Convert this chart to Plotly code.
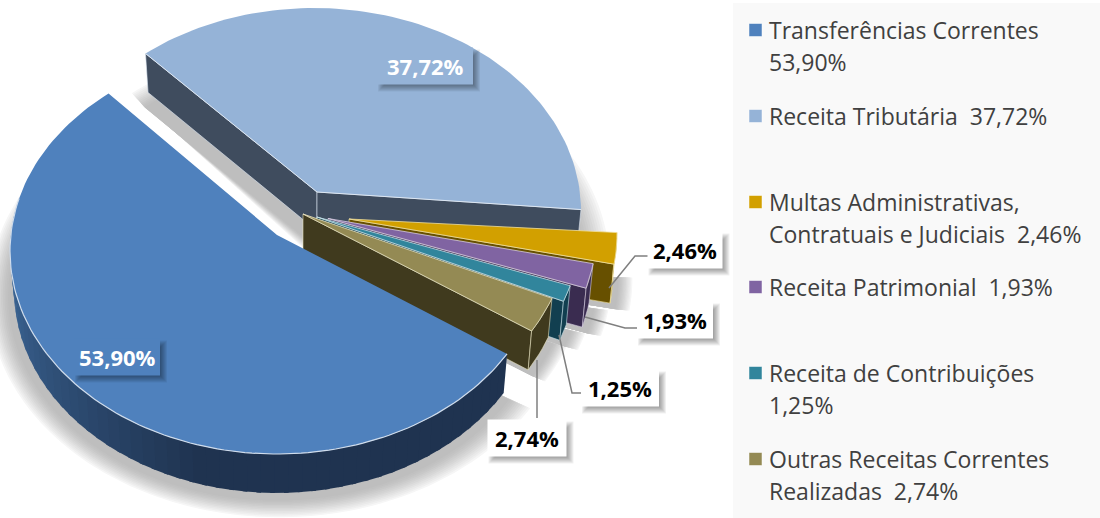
import math
import plotly.graph_objects as go

# ---------- data ----------
categories = ["Transferências Correntes", "Receita Tributária", "Multas Administrativas, Contratuais e Judiciais",
              "Receita Patrimonial", "Receita de Contribuições", "Outras Receitas Correntes Realizadas"]
values = [53.90, 37.72, 2.46, 1.93, 1.25, 2.74]
value_labels = ["53,90%", "37,72%", "2,46%", "1,93%", "1,25%", "2,74%"]
legend_lines = [["Transferências Correntes", "53,90%"], ["Receita Tributária  37,72%"],
                ["Multas Administrativas,", "Contratuais e Judiciais  2,46%"], ["Receita Patrimonial  1,93%"],
                ["Receita de Contribuições", "1,25%"], ["Outras Receitas Correntes", "Realizadas  2,74%"]]

# ---------- styles / layout ----------
top_colors = ["#4f81bd", "#95b3d7", "#d2a000", "#8064a2", "#31859c", "#948a54"]
side_colors = ["#1f3350", "#3f4c5e", "#675000", "#3a2c50", "#123f50", "#403a1e"]
edge_colors = ["#cfdcec", "#dce6f2", "#f0e0a0", "#d5cce0", "#c5dfe6", "#e8e2c0"]
centers = [(277, 251), (314, 211), (350, 234), (329, 233.5), (313, 231), (301.5, 228)]
apex_shift = [(0, -16), (3, -19), (-1, -15), (-1, -15), (4, -14), (1.5, -14)]
RX, RY, DEPTH, BOTTOM_SCALE = 267, 203, 39, 0.985
START, WARP = 34.0, 4.25
draw_order = [1, 2, 3, 4, 5, 0]
box_centers = [(117, 357), (425, 66), (685, 250), (675, 320), (620, 388), (527, 438)]
box_w = [86, 96, 75, 76, 78, 79]
box_h = 37
box_fill = ["#4f81bd", "#95b3d7", "white", "white", "white", "white"]
label_color = ["white", "white", "black", "black", "black", "black"]
leaders = {2: [(648, 256), (635, 256), (609, 288)], 3: [(637, 328), (625, 328), (585, 317)],
           4: [(585, 393), (572, 393), (559, 335)], 5: [(537, 418), (537, 360)]}
legend_y = [(30, 62), (116,), (202, 234), (287,), (373, 405), (459, 491)]
LABEL_FONT = "Open Sans"
LEGEND_FONT = "Open Sans"
SHADOW_LAYERS = 12
SHADOW_REACH = [24, 26, 14, 14, 14, 14]
SHADOW_DROP = [6, 16, 6, 6, 6, 6]


def warp(phi):
    return phi - WARP * math.cos(math.radians(phi))


bounds, c = [], START
for v in values:
    bounds.append((warp(c), warp(c + v * 3.6)))
    c += v * 3.6


def arc(i, a, b, dy=0.0, sx=1.0, sy=1.0, n=None):
    n = n or max(3, int(abs(b - a) / 1.5))
    cx, cy = centers[i]
    pts = []
    for k in range(n + 1):
        t = math.radians(a + (b - a) * k / n)
        pts.append((cx + RX * sx * math.cos(t), cy + dy + RY * sy * math.sin(t)))
    return pts


def apex(i, dy=0.0, scale=1.0):
    cx, cy = centers[i]
    return (cx + apex_shift[i][0] * scale, cy + apex_shift[i][1] + dy)


fig = go.Figure()


def poly(pts, fill, line=None, width=0.0):
    xs = [p[0] for p in pts] + [pts[0][0]]
    ys = [p[1] for p in pts] + [pts[0][1]]
    fig.add_trace(go.Scatter(x=xs, y=ys, mode="lines", fill="toself", fillcolor=fill,
                             line=dict(color=line or fill, width=width), hoverinfo="skip", showlegend=False))


def path(pts, color, width):
    fig.add_trace(go.Scatter(x=[p[0] for p in pts], y=[p[1] for p in pts], mode="lines",
                             line=dict(color=color, width=width), hoverinfo="skip", showlegend=False))


def mix(c1, c2, t):
    a = [int(c1[j:j + 2], 16) for j in (1, 3, 5)]
    b = [int(c2[j:j + 2], 16) for j in (1, 3, 5)]
    return "#%02x%02x%02x" % tuple(round(x + (y - x) * t) for x, y in zip(a, b))


shapes = [dict(type="rect", xref="x", yref="y", x0=733, x1=1100, y0=3, y1=518,
               fillcolor="#f9f9f9", line=dict(width=0), layer="below")]

# soft shadows under every slice: opaque greys, painted from the outermost ring inwards
for k in range(SHADOW_LAYERS, 0, -1):
    f = k / SHADOW_LAYERS
    col = mix("#bcbcbc", "#f6f6f6", f ** 1.4)
    for i in draw_order:
        a, b = bounds[i]
        d = f * SHADOW_REACH[i]
        s = 1 + d / RX
        drop = DEPTH + SHADOW_DROP[i]
        pts = [apex(i, drop + d * 0.6)] + arc(i, a, b, drop, s, s)
        d_path = "M " + " L ".join("%.1f,%.1f" % (x + d * 0.1, y) for x, y in pts) + " Z"
        shapes.append(dict(type="path", path=d_path, xref="x", yref="y", fillcolor=col,
                           line=dict(width=0), layer="below"))

# slices, back to front
for i in draw_order:
    a, b = bounds[i]
    side = side_colors[i]
    ax, ay = apex(i)
    bx, by = apex(i, DEPTH, BOTTOM_SCALE)
    if i == 1:  # start face of the back slice
        t, u = arc(i, a, a, n=1)[0], arc(i, a, a, DEPTH, BOTTOM_SCALE, n=1)[0]
        poly([(ax, ay), t, u, (bx, by)], side, edge_colors[i], 0.6)
    if i != 0:  # end face
        t, u = arc(i, b, b, n=1)[0], arc(i, b, b, DEPTH, BOTTOM_SCALE, n=1)[0]
        poly([(ax, ay), t, u, (bx, by)], side, edge_colors[i], 0.6)
    if i == 0:  # outer wall with a left-to-right shading
        step = 3
        th = a
        while th < min(b, 192):
            e = min(th + step + 1, 192)
            t = max(0.0, min(1.0, (th - 105) / 75))
            col = mix("#1f3350", "#3d6899", t)
            poly(arc(i, th, e, n=4) + arc(i, e, th, DEPTH, BOTTOM_SCALE, n=4), col)
            th += step
    elif i != 1:
        poly(arc(i, a, b) + arc(i, b, a, DEPTH, BOTTOM_SCALE), side, edge_colors[i], 0.6)
    if i == 0:
        poly([(ax, ay)] + arc(i, a, b), top_colors[i])
        path(arc(i, a, 195), edge_colors[i], 1.2)
    elif i == 1:
        poly([(ax, ay)] + arc(i, a, b), top_colors[i])
        path([arc(i, a, a, n=1)[0], (ax, ay), arc(i, b, b, n=1)[0]], edge_colors[i], 1.0)
    else:
        poly([(ax, ay)] + arc(i, a, b), top_colors[i], edge_colors[i], 0.8)

# leader lines
for i, pts in leaders.items():
    path(pts, "#7f7f7f", 1.5)

# legend swatches
for i, ys in enumerate(legend_y):
    fig.add_trace(go.Scatter(x=[755.5], y=[ys[0]], mode="markers",
                             marker=dict(symbol="square", size=13, color=top_colors[i],
                                         line=dict(color="white", width=0.5)),
                             hoverinfo="skip", showlegend=False))

annotations = []
for i in range(6):
    cx, cy = box_centers[i]
    w, h = box_w[i], box_h
    for k in range(7):
        shapes.append(dict(type="rect", xref="x", yref="y",
                           x0=cx - w / 2 + 7 - k, x1=cx + w / 2 + 1 + k,
                           y0=cy - h / 2 + 8 - k, y1=cy + h / 2 + 1 + k,
                           fillcolor="rgba(0,0,0,0.06)", line=dict(width=0), layer="above"))
    shapes.append(dict(type="rect", xref="x", yref="y", x0=cx - w / 2, x1=cx + w / 2,
                       y0=cy - h / 2, y1=cy + h / 2, fillcolor=box_fill[i], line=dict(width=0), layer="above"))
    annotations.append(dict(x=cx, y=cy, xref="x", yref="y", text="<b>%s</b>" % value_labels[i], showarrow=False,
                            font=dict(family=LABEL_FONT, size=22, color=label_color[i])))

for lines, ys in zip(legend_lines, legend_y):
    for txt, y in zip(lines, ys):
        annotations.append(dict(x=767, y=y, xref="x", yref="y", text=txt, showarrow=False, xanchor="left",
                                font=dict(family=LEGEND_FONT, size=23, color="#404040")))

fig.update_layout(width=1100, height=518, margin=dict(l=0, r=0, t=0, b=0), autosize=False,
                  paper_bgcolor="white", plot_bgcolor="white", showlegend=False,
                  xaxis=dict(range=[0, 1100], visible=False, fixedrange=True, domain=[0, 1]),
                  yaxis=dict(range=[518, 0], visible=False, fixedrange=True, domain=[0, 1]),
                  shapes=shapes, annotations=annotations)
fig.write_html("out.html", config=dict(displayModeBar=False),
               post_script="document.body.style.margin='0';document.body.style.overflow='hidden';")
